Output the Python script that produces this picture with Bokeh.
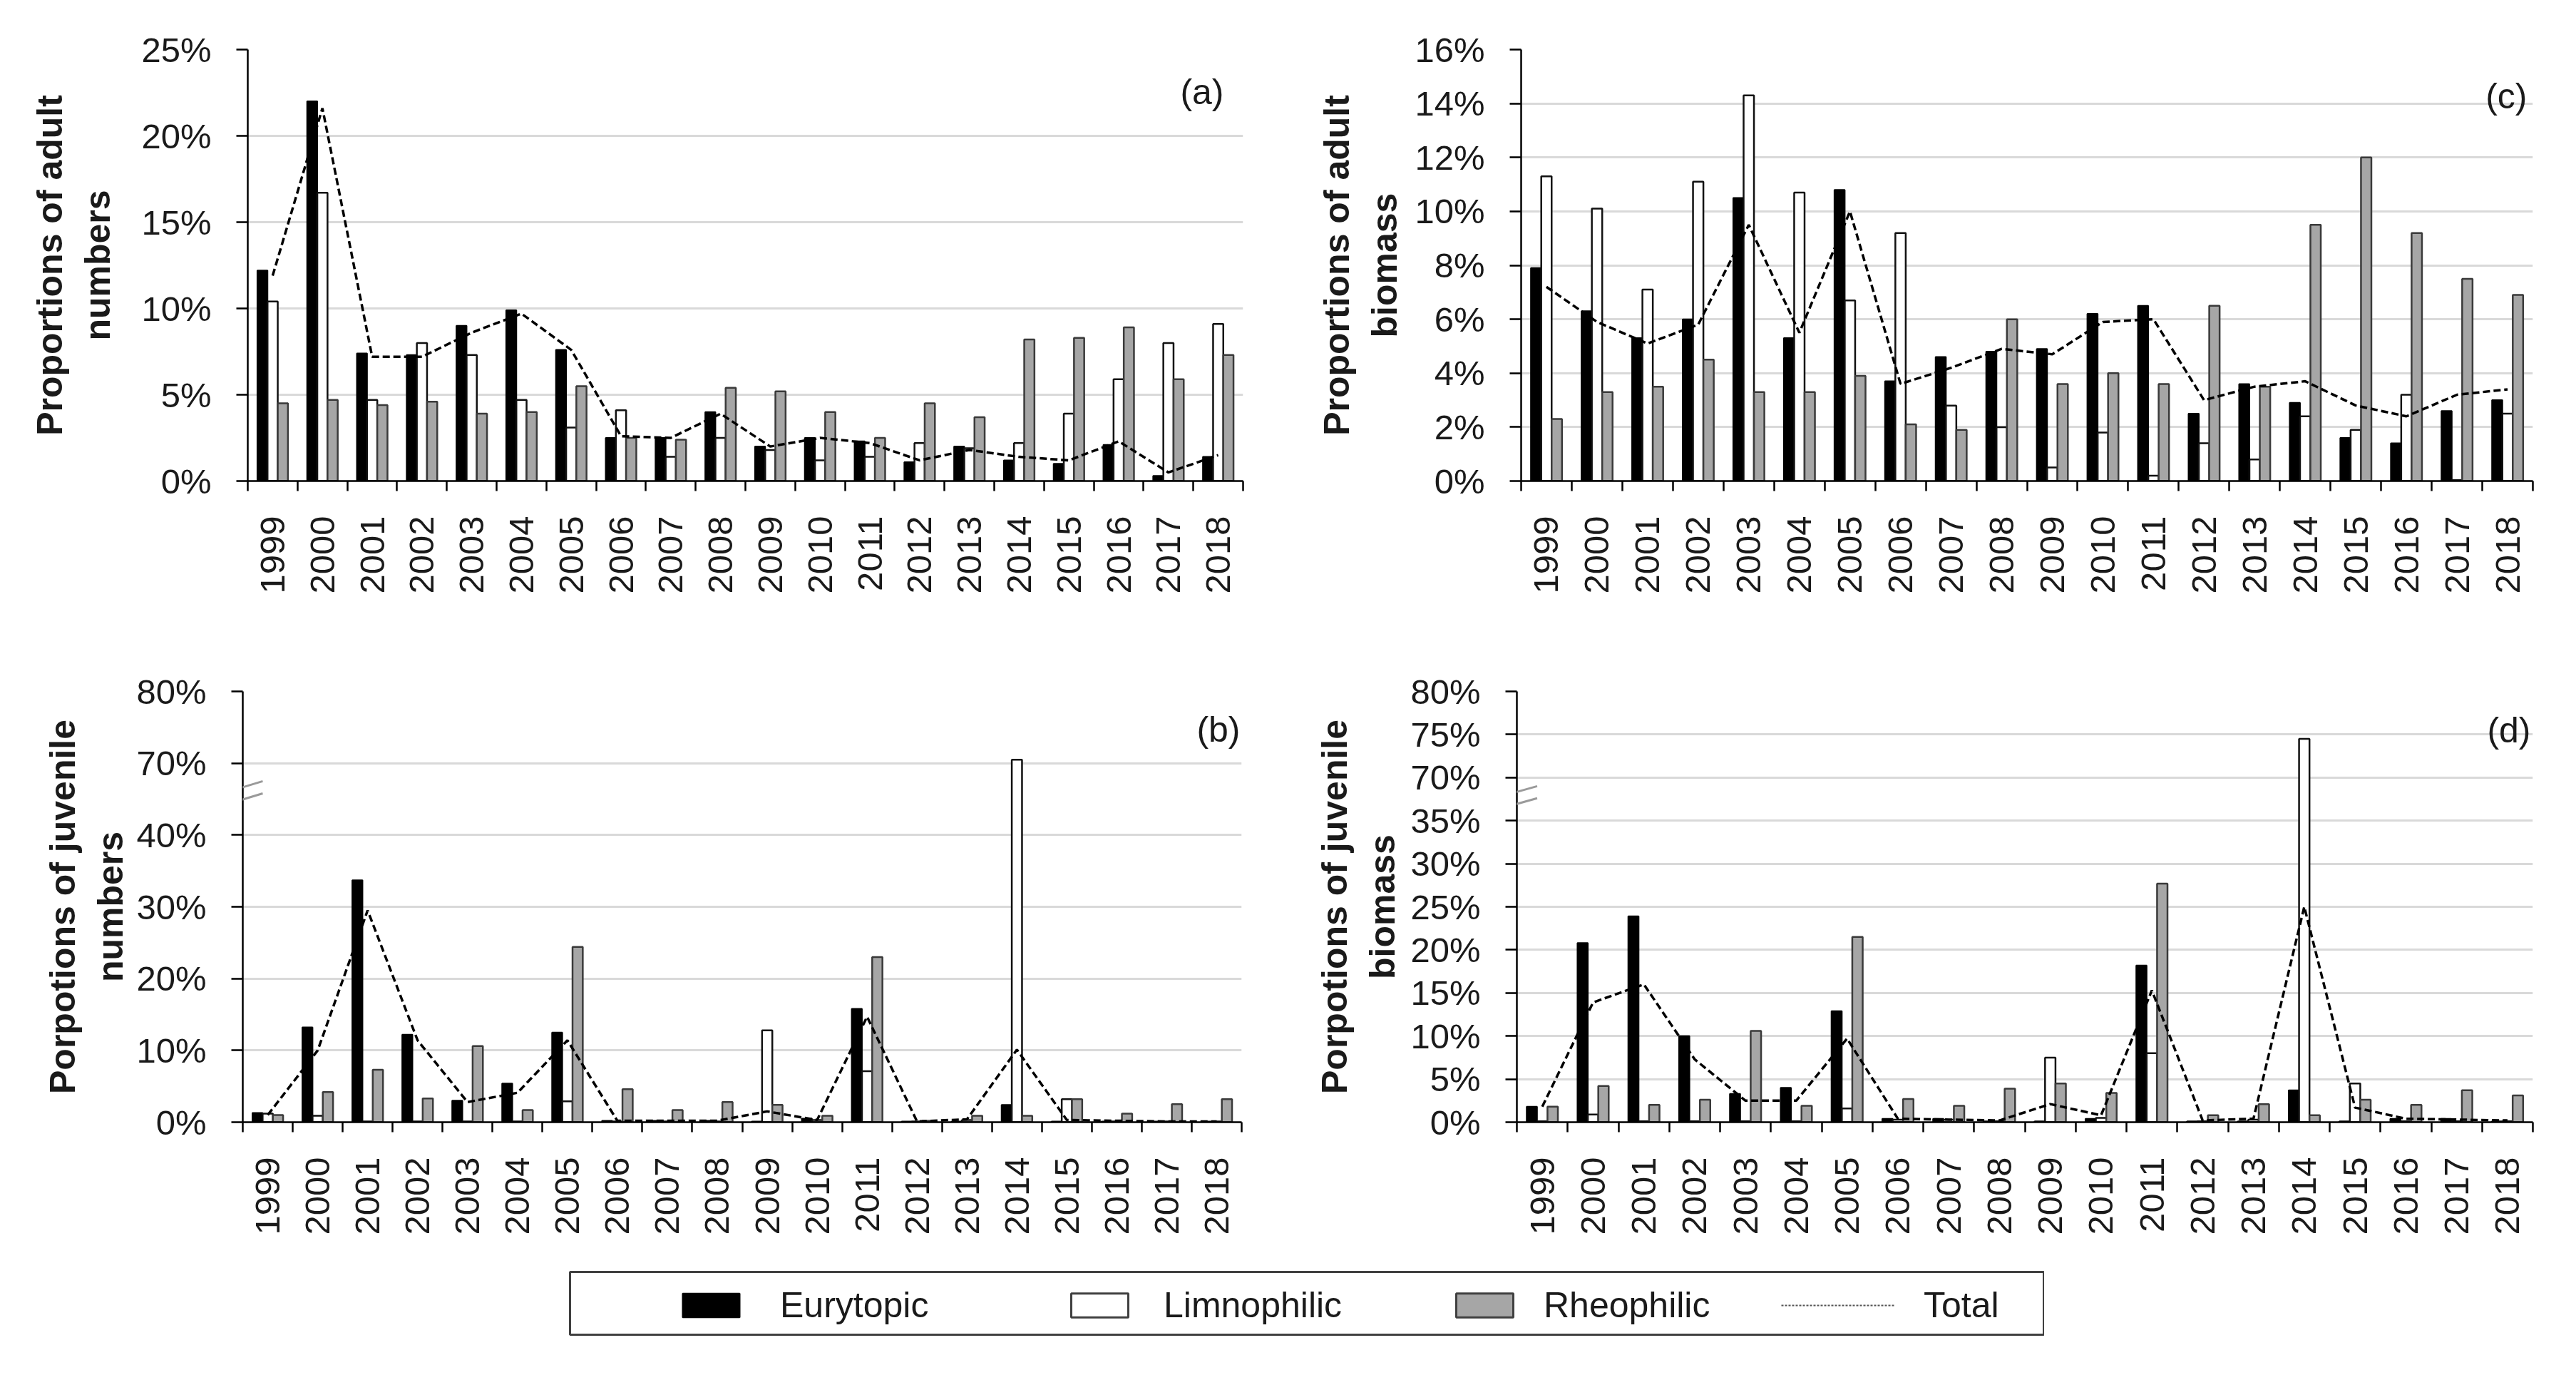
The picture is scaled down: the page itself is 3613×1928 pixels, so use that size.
import math
import numpy as np
from bokeh.plotting import figure
from bokeh.models import (Range1d, FixedTicker, CustomJSTickFormatter, Label, Arrow,
                          Legend, LegendItem)
from bokeh.layouts import column, row
from bokeh.embed import file_html
from bokeh.resources import INLINE

FONT = "Liberation Sans"
TXT = "#1a1a1a"

years = [str(y) for y in range(1999, 2019)]

# (a) adult numbers (%)
adult_num_E = [12.2, 22.0, 7.4, 7.3, 9.0, 9.9, 7.6, 2.5, 2.5, 4.0, 2.0, 2.5, 2.3, 1.1, 2.0, 1.2, 1.0, 2.1, 0.3, 1.4]
adult_num_L = [10.4, 16.7, 4.7, 8.0, 7.3, 4.7, 3.1, 4.1, 1.4, 2.5, 1.8, 1.2, 1.4, 2.2, 1.9, 2.2, 3.9, 5.9, 8.0, 9.1]
adult_num_R = [4.5, 4.7, 4.4, 4.6, 3.9, 4.0, 5.5, 2.5, 2.4, 5.4, 5.2, 4.0, 2.5, 4.5, 3.7, 8.2, 8.3, 8.9, 5.9, 7.3]
adult_num_T = [11.9, 21.6, 7.2, 7.2, 8.6, 9.7, 7.6, 2.6, 2.5, 3.9, 2.0, 2.5, 2.2, 1.2, 1.8, 1.4, 1.2, 2.3, 0.5, 1.5]

# (c) adult biomass (%)
adult_bio_E = [7.9, 6.3, 5.3, 6.0, 10.5, 5.3, 10.8, 3.7, 4.6, 4.8, 4.9, 6.2, 6.5, 2.5, 3.6, 2.9, 1.6, 1.4, 2.6, 3.0]
adult_bio_L = [11.3, 10.1, 7.1, 11.1, 14.3, 10.7, 6.7, 9.2, 2.8, 2.0, 0.5, 1.8, 0.2, 1.4, 0.8, 2.4, 1.9, 3.2, 0.03, 2.5]
adult_bio_R = [2.3, 3.3, 3.5, 4.5, 3.3, 3.3, 3.9, 2.1, 1.9, 6.0, 3.6, 4.0, 3.6, 6.5, 3.5, 9.5, 12.0, 9.2, 7.5, 6.9]
adult_bio_T = [7.2, 5.9, 5.1, 5.8, 9.5, 5.5, 10.0, 3.6, 4.2, 4.9, 4.7, 5.9, 6.0, 3.0, 3.5, 3.7, 2.8, 2.4, 3.2, 3.4]

# (b) juvenile numbers (%)
juv_num_E = [1.3, 13.2, 33.7, 12.2, 3.0, 5.4, 12.5, 0.2, 0.2, 0.2, 0.1, 0.5, 15.8, 0.1, 0.1, 2.4, 0.1, 0.1, 0.1, 0.1]
juv_num_L = [1.2, 0.9, 0.1, 0.1, 0.1, 0.1, 2.9, 0.1, 0.1, 0.1, 12.8, 0.3, 7.1, 0.1, 0.3, 70.5, 3.2, 0.1, 0.1, 0.1]
juv_num_R = [1.0, 4.2, 7.3, 3.3, 10.6, 1.7, 24.4, 4.6, 1.7, 2.8, 2.4, 0.9, 23.0, 0.2, 0.9, 0.9, 3.2, 1.2, 2.5, 3.2]
juv_num_T = [1.0, 10.0, 29.5, 11.4, 2.8, 4.1, 11.4, 0.2, 0.2, 0.2, 1.5, 0.3, 14.7, 0.1, 0.4, 10.1, 0.3, 0.2, 0.1, 0.1]

# (d) juvenile biomass (%)
juv_bio_E = [1.8, 20.8, 23.9, 10.0, 3.3, 4.0, 12.9, 0.4, 0.4, 0.1, 0.1, 0.4, 18.2, 0.1, 0.1, 3.7, 0.1, 0.4, 0.4, 0.1]
juv_bio_L = [0.1, 0.9, 0.1, 0.1, 0.1, 0.1, 1.6, 0.3, 0.3, 0.1, 7.5, 0.5, 8.0, 0.1, 0.3, 74.5, 4.5, 0.1, 0.1, 0.1]
juv_bio_R = [1.8, 4.2, 2.0, 2.6, 10.6, 1.9, 21.5, 2.7, 1.9, 3.9, 4.5, 3.4, 27.7, 0.8, 2.1, 0.8, 2.6, 2.0, 3.7, 3.1]
juv_bio_T = [1.8, 13.9, 16.0, 7.3, 2.5, 2.5, 9.7, 0.4, 0.3, 0.2, 2.1, 0.8, 15.3, 0.2, 0.4, 25.0, 1.7, 0.4, 0.3, 0.2]

# y tick values (real %)
ticks_a = [0, 5, 10, 15, 20, 25]
ticks_c = [0, 2, 4, 6, 8, 10, 12, 14, 16]
ticks_b = [0, 10, 20, 30, 40, 70, 80]
ticks_d = [0, 5, 10, 15, 20, 25, 30, 35, 70, 75, 80]

series_names = ["Eurytopic", "Limnophilic", "Rheophilic", "Total"]


def make_break(lo, hi, step):
    """broken axis: values above `hi` are drawn one tick step above `lo`."""
    def f(vals):
        return [v if v <= lo else lo + step + (v - hi) for v in vals]
    return f


ident = lambda vals: list(vals)
brk_b = make_break(40, 70, 10)
brk_d = make_break(35, 70, 5)


def panel(E, L, R, T, ticks, tf, title, tag, w, h, bl, bt, br, bb,
          title_standoff, tag_dx, tag_dy, breakmark=None):
    n = len(years)
    tpos = tf(ticks)
    p = figure(width=w, height=h, x_range=Range1d(0, n), y_range=Range1d(0, tpos[-1]),
               output_backend="svg", toolbar_location=None,
               min_border_left=bl, min_border_top=bt, min_border_right=br, min_border_bottom=bb)
    p.outline_line_color = None
    p.background_fill_color = "white"
    p.border_fill_color = "white"
    p.xgrid.visible = False
    p.ygrid.ticker = FixedTicker(ticks=tpos, minor_ticks=[])
    p.ygrid.grid_line_color = "#d9d9d9"
    p.ygrid.grid_line_width = 3

    xc = np.arange(n) + 0.5
    bw = 0.205
    p.vbar(x=xc - bw, top=tf(E), width=bw, bottom=0, fill_color="black",
           line_color="black", line_width=2)
    p.vbar(x=xc, top=tf(L), width=bw, bottom=0, fill_color="white",
           line_color="#111111", line_width=2.5)
    p.vbar(x=xc + bw, top=tf(R), width=bw, bottom=0, fill_color="#a6a6a6",
           line_color="#3a3a3a", line_width=2.5)
    p.line(x=xc, y=tf(T), line_color="black", line_width=3.5, line_dash="10 5")

    xa = p.xaxis[0]
    xa.ticker = FixedTicker(ticks=list(xc), minor_ticks=list(range(n + 1)))
    xa.formatter = CustomJSTickFormatter(args=dict(labels=years),
                                         code="return labels[Math.floor(tick)];")
    xa.major_label_orientation = math.pi / 2
    xa.major_tick_out = 0
    xa.major_tick_in = 0
    xa.minor_tick_out = 14
    xa.minor_tick_in = 0
    xa.minor_tick_line_width = 2.5
    xa.minor_tick_line_color = "black"
    xa.axis_line_width = 2.5
    xa.axis_line_color = "black"
    xa.major_label_standoff = 35
    xa.major_label_text_font = FONT
    xa.major_label_text_font_size = "49px"
    xa.major_label_text_color = TXT

    ya = p.yaxis[0]
    ya.ticker = FixedTicker(ticks=tpos, minor_ticks=[])
    labs = [f"{v}%" for v in ticks]
    ya.formatter = CustomJSTickFormatter(
        args=dict(pos=tpos, labs=labs),
        code="for (let i = 0; i < pos.length; i++) { if (Math.abs(pos[i] - tick) < 1e-6) return labs[i]; } return '';")
    ya.major_tick_out = 16
    ya.major_tick_in = 0
    ya.major_tick_line_width = 2.5
    ya.major_tick_line_color = "black"
    ya.minor_tick_out = 0
    ya.minor_tick_in = 0
    ya.axis_line_width = 2.5
    ya.axis_line_color = "black"
    ya.major_label_standoff = 35
    ya.major_label_text_font = FONT
    ya.major_label_text_font_size = "49px"
    ya.major_label_text_color = TXT
    ya.axis_label = title
    ya.axis_label_text_font = FONT
    ya.axis_label_text_font_style = "bold"
    ya.axis_label_text_font_size = "50px"
    ya.axis_label_text_color = TXT
    ya.axis_label_standoff = title_standoff

    p.add_layout(Label(x=n, y=tpos[-1], x_offset=-tag_dx, y_offset=-tag_dy, text=tag,
                       text_align="right", text_baseline="middle", text_font=FONT,
                       text_font_size="50px", text_color=TXT))
    if breakmark is not None:
        for (y0, y1) in breakmark:
            p.add_layout(Arrow(start=None, end=None, x_start=-0.45, y_start=y0, x_end=0.40,
                               y_end=y1, line_color="#9a9a9a", line_width=3))
    return p


pa = panel(adult_num_E, adult_num_L, adult_num_R, adult_num_T, ticks_a, ident,
           "Proportions of adult\nnumbers", "(a)",
           w=1792, h=900, bl=347, bt=69, br=49, bb=226, title_standoff=30, tag_dx=27, tag_dy=59)
pc = panel(adult_bio_E, adult_bio_L, adult_bio_R, adult_bio_T, ticks_c, ident,
           "Proportions of adult\nbiomass", "(c)",
           w=1780, h=900, bl=341, bt=61, br=20, bb=220, title_standoff=11, tag_dx=8, tag_dy=65)
pb = panel(juv_num_E, juv_num_L, juv_num_R, juv_num_T, ticks_b, brk_b,
           "Porpotions of juvenile\nnumbers", "(b)",
           w=1792, h=881, bl=340, bt=69, br=51, bb=208, title_standoff=5, tag_dx=2, tag_dy=53,
           breakmark=[(44.0, 45.8), (45.7, 47.5)])
pd_ = panel(juv_bio_E, juv_bio_L, juv_bio_R, juv_bio_T, ticks_d, brk_d,
            "Porpotions of juvenile\nbiomass", "(d)",
            w=1780, h=881, bl=335, bt=69, br=20, bb=205, title_standoff=8, tag_dx=3, tag_dy=54,
            breakmark=[(36.2, 37.6), (37.6, 39.0)])

# legend strip
lg = figure(width=799 + 2068, height=2 + 88 + 6, x_range=Range1d(0, 1), y_range=Range1d(0, 1),
            x_axis_location=None, y_axis_location=None, output_backend="svg",
            toolbar_location=None, min_border_left=799, min_border_right=0,
            min_border_top=2, min_border_bottom=6)
lg.grid.visible = False
lg.outline_line_color = "#404040"
lg.outline_line_width = 3
lg.background_fill_color = "white"
lg.border_fill_color = "white"
# off-screen proxy glyphs, used only to draw the legend swatches
rE = lg.vbar(x=[5], top=[0.5], width=0.1, fill_color="black", line_color="black", line_width=2)
rL = lg.vbar(x=[5], top=[0.5], width=0.1, fill_color="white", line_color="#404040", line_width=3)
rR = lg.vbar(x=[5], top=[0.5], width=0.1, fill_color="#a6a6a6", line_color="#404040", line_width=3)
rT = lg.line(x=[5, 6], y=[0.5, 0.5], line_color="#555555", line_width=2, line_dash="3 2")

for r, name, xloc, stand, gw in [(rE, series_names[0], 148, 47, 100),
                                 (rL, series_names[1], 693, 40, 100),
                                 (rR, series_names[2], 1233, 33, 100),
                                 (rT, series_names[3], 1699, 40, 160)]:
    leg = Legend(items=[LegendItem(label=name, renderers=[r])], location=(xloc, 12),
                 orientation="horizontal", glyph_width=gw, glyph_height=42,
                 label_standoff=stand, padding=0, margin=0, spacing=0,
                 border_line_alpha=0, background_fill_alpha=0,
                 label_text_font=FONT, label_text_font_size="50px",
                 label_text_color=TXT)
    lg.add_layout(leg, "center")

layout = column(row(pa, pc), row(pb, pd_), lg)

with open("out.html", "w") as f:
    f.write(file_html(layout, INLINE))
